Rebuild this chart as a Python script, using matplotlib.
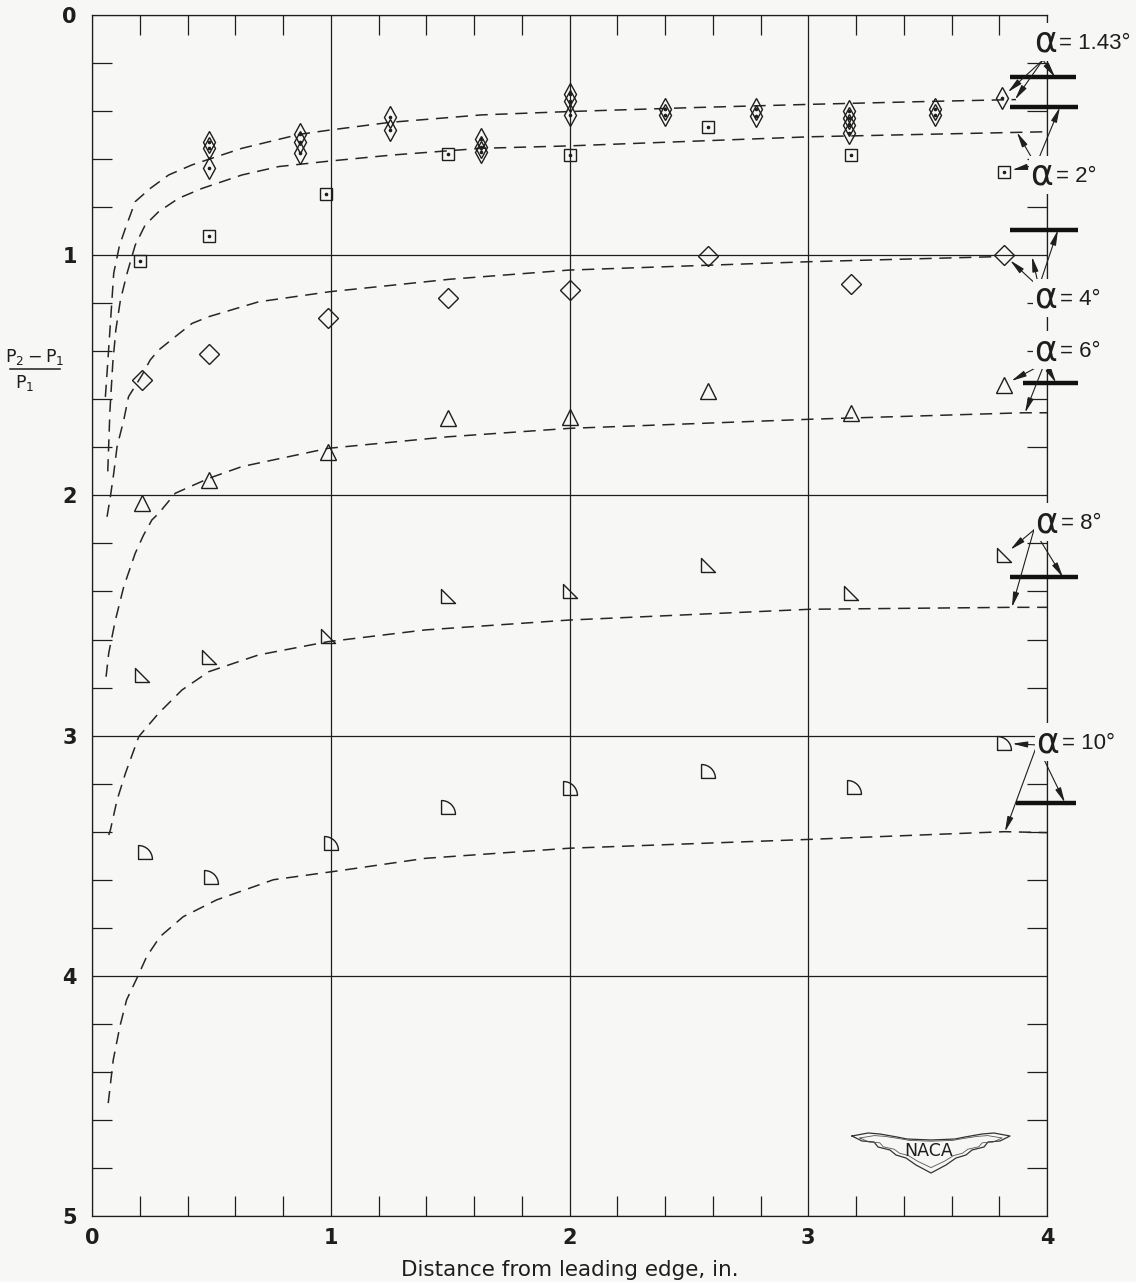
import numpy as np
import matplotlib
matplotlib.use("Agg")
import matplotlib.pyplot as plt
from matplotlib.path import Path
from matplotlib.lines import Line2D

W, H = 1136, 1282
BG = "#f7f7f5"
INK = "#1e1e1e"

# ---- measured pressure rise (p2 - p1)/p1 vs distance from leading edge (in.) ----
# alpha = 1.43 deg (several runs per station)
x_a143 = [0.49, 0.49, 0.49, 0.87, 0.87, 0.87, 1.25, 1.25, 1.63, 1.63, 1.63,
          2.00, 2.00, 2.00, 2.40, 2.40, 2.78, 2.78, 3.17, 3.17, 3.17, 3.17,
          3.53, 3.53, 3.81]
y_a143 = [0.53, 0.555, 0.635, 0.495, 0.53, 0.575, 0.425, 0.48, 0.515, 0.55, 0.57,
          0.33, 0.36, 0.415, 0.39, 0.415, 0.39, 0.42, 0.40, 0.43, 0.46, 0.49,
          0.39, 0.415, 0.345]
# alpha = 2 deg
x_a2 = [0.20, 0.49, 0.98, 1.49, 2.00, 2.58, 3.18, 3.82]
y_a2 = [1.024, 0.919, 0.746, 0.58, 0.583, 0.465, 0.583, 0.652]
# alpha = 4 deg
x_a4 = [0.21, 0.49, 0.99, 1.49, 2.00, 2.58, 3.18, 3.82]
y_a4 = [1.52, 1.41, 1.262, 1.18, 1.145, 1.003, 1.12, 0.998]
# alpha = 6 deg
x_a6 = [0.21, 0.49, 0.99, 1.49, 2.00, 2.58, 3.18, 3.82]
y_a6 = [2.033, 1.936, 1.818, 1.677, 1.672, 1.564, 1.658, 1.54]
# alpha = 8 deg
x_a8 = [0.21, 0.49, 0.99, 1.49, 2.00, 2.58, 3.18, 3.82]
y_a8 = [2.748, 2.674, 2.585, 2.419, 2.398, 2.29, 2.405, 2.248]
# alpha = 10 deg
x_a10 = [0.22, 0.50, 1.00, 1.49, 2.00, 2.58, 3.19, 3.82]
y_a10 = [3.483, 3.59, 3.446, 3.299, 3.219, 3.146, 3.213, 3.032]

# ---- theoretical curves (dashed) ----
cx_143 = [0.056, 0.063, 0.077, 0.091, 0.115, 0.140, 0.181, 0.244, 0.321, 0.419,
          0.491, 0.628, 0.868, 0.996, 1.247, 1.630, 1.997, 2.500, 3.007, 3.500, 3.870]
cy_143 = [1.59, 1.49, 1.284, 1.075, 0.96, 0.888, 0.777, 0.722, 0.666, 0.624,
          0.60, 0.555, 0.497, 0.479, 0.447, 0.416, 0.402, 0.386, 0.372, 0.360, 0.352]
cx_2 = [0.066, 0.075, 0.087, 0.100, 0.119, 0.147, 0.181, 0.223, 0.279, 0.363, 0.461,
        0.628, 0.782, 0.996, 1.257, 1.630, 1.997, 3.007, 4.000]
cy_2 = [1.90, 1.65, 1.45, 1.31, 1.187, 1.075, 0.958, 0.874, 0.819, 0.763, 0.722,
        0.666, 0.631, 0.608, 0.583, 0.555, 0.545, 0.507, 0.486]
cx_4 = [0.063, 0.077, 0.091, 0.105, 0.133, 0.153, 0.209, 0.244, 0.279, 0.349, 0.419,
        0.489, 0.698, 0.996, 1.500, 1.997, 3.007, 3.790]
cy_4 = [2.089, 2.005, 1.908, 1.797, 1.686, 1.589, 1.50, 1.436, 1.395, 1.339, 1.284,
        1.256, 1.194, 1.152, 1.10, 1.062, 1.027, 1.006]
cx_6 = [0.059, 0.070, 0.098, 0.133, 0.181, 0.216, 0.251, 0.279, 0.349, 0.489, 0.628,
        0.989, 1.491, 1.997, 3.007, 3.900, 4.000]
cy_6 = [2.755, 2.657, 2.519, 2.38, 2.241, 2.165, 2.102, 2.075, 1.991, 1.929, 1.88,
        1.804, 1.756, 1.721, 1.683, 1.656, 1.656]
cx_8 = [0.070, 0.077, 0.105, 0.140, 0.196, 0.279, 0.377, 0.489, 0.698, 0.988, 1.396,
        1.997, 3.007, 3.853, 4.000]
cy_8 = [3.414, 3.393, 3.268, 3.157, 3.004, 2.907, 2.81, 2.734, 2.664, 2.609, 2.56,
        2.519, 2.474, 2.466, 2.466]
cx_10 = [0.068, 0.089, 0.117, 0.145, 0.191, 0.229, 0.285, 0.382, 0.522, 0.760, 1.039,
         1.396, 1.997, 3.007, 3.822, 4.000]
cy_10 = [4.53, 4.35, 4.21, 4.10, 4.004, 3.92, 3.837, 3.754, 3.684, 3.60, 3.562,
         3.511, 3.469, 3.432, 3.40, 3.404]

# ---- heavy reference bars at right edge, one per angle ----
bar_levels = [0.259, 0.384, 0.895, 1.531, 2.341, 3.279]

alpha_labels = ["1.43", "2", "4", "6", "8", "10"]
x_ticks = [0, 1, 2, 3, 4]
y_ticks = [0, 1, 2, 3, 4, 5]

# ---- marker shapes ----
right_tri = Path([(-0.5, 0.5), (-0.5, -0.5), (0.5, -0.5), (-0.5, 0.5)],
                 [Path.MOVETO, Path.LINETO, Path.LINETO, Path.CLOSEPOLY])
_arc = Path.arc(0, 90)
_qv = np.vstack([[0, 0], _arc.vertices, [0, 0]]) - 0.5
_qc = [Path.MOVETO, Path.LINETO] + list(_arc.codes[1:]) + [Path.CLOSEPOLY]
quarter = Path(_qv, _qc)

series = [
    (x_a143, y_a143, "d", 11, True),
    (x_a2, y_a2, "s", 8.5, True),
    (x_a4, y_a4, "D", 10, False),
    (x_a6, y_a6, "^", 11, False),
    (x_a8, y_a8, right_tri, 10, False),
    (x_a10, y_a10, quarter, 10, False),
]
curves = [(cx_143, cy_143), (cx_2, cy_2), (cx_4, cy_4),
          (cx_6, cy_6), (cx_8, cy_8), (cx_10, cy_10)]

fig = plt.figure(figsize=(W / 100, H / 100), dpi=100, facecolor=BG)
ax = fig.add_axes([92 / W, 1 - 1216 / H, 955 / W, 1201 / H], facecolor=BG)

ax.set_xlim(0, 4)
ax.set_ylim(5, 0)
ax.set_xticks(x_ticks)
ax.set_yticks(y_ticks)
ax.set_xticks(np.arange(0, 4.01, 0.2), minor=True)
ax.set_yticks(np.arange(0, 5.01, 0.2), minor=True)
ax.set_xticklabels([str(v) for v in x_ticks])
ax.set_yticklabels([str(v) for v in y_ticks])
ax.tick_params(which="major", length=0, labelsize=15, colors=INK)
ax.tick_params(axis="x", which="major", pad=9)
ax.tick_params(axis="y", which="major", pad=11)
ax.tick_params(which="minor", direction="in", length=14.5, width=0.9,
               top=True, right=True, bottom=True, left=True, color=INK)
for lab in ax.get_xticklabels() + ax.get_yticklabels():
    lab.set_fontweight("bold")
ax.grid(which="major", color=INK, lw=0.9)
ax.set_axisbelow(True)
for s in ax.spines.values():
    s.set_color(INK)
    s.set_linewidth(0.9)

# dashed theory curves
for cx, cy in curves:
    ax.plot(cx, cy, ls=(0, (8, 5)), lw=1.1, color="#262626", zorder=2)

# data points
for xs, ys, mk, ms, dot in series:
    ax.plot(xs, ys, ls="none", marker=mk, ms=ms, mfc="none", mec=INK, mew=1.0,
            zorder=3, clip_on=False)
    if dot:
        ax.plot(xs, ys, ls="none", marker="o", ms=1.6, mfc=INK, mec=INK, zorder=3)

# heavy bars at the right edge
bar_x = [(3.845, 4.12), (3.845, 4.13), (3.845, 4.13), (3.90, 4.13),
         (3.845, 4.13), (3.87, 4.12)]
for lvl, (x0, x1) in zip(bar_levels, bar_x):
    ax.plot([x0, x1], [lvl, lvl], color="#111", lw=3.2, solid_capstyle="butt",
            clip_on=False, zorder=4)

# angle labels with leader arrows to marker, bar and curve
label_pos = [(3.992, 0.112), (3.979, 0.666), (3.996, 1.178),
             (3.996, 1.395), (4.000, 2.111), (4.004, 3.027)]
apex = [(3.983, 0.187), (3.954, 0.625), (3.966, 1.132),
        (3.990, 1.449), (3.945, 2.144), (3.958, 3.039)]
bar_tip_x = [4.034, 4.054, 4.046, 4.038, 4.067, 4.075]
curve_tip_x = [3.866, 3.874, 3.937, 3.908, 3.853, 3.824]

arrow_kw = dict(arrowstyle="-|>,head_length=0.9,head_width=0.18", lw=0.8,
                color=INK, shrinkA=0, shrinkB=0)
for i, lbl in enumerate(alpha_labels):
    lx, ly = label_pos[i]
    ax.text(lx, ly, "α", fontsize=25, ha="center", va="center", color=INK,
            clip_on=False, zorder=6,
            bbox=dict(boxstyle="square,pad=0.05", fc=BG, ec="none"))
    ax.annotate("= " + lbl + "°", xy=(lx, ly), xytext=(10, -1),
                textcoords="offset points", fontsize=16, ha="left", va="center",
                family="Liberation Sans", color=INK, annotation_clip=False,
                zorder=6, bbox=dict(boxstyle="square,pad=0.05", fc=BG, ec="none"))
    a = apex[i]
    xs, ys = series[i][0], series[i][1]
    ax.annotate("", xy=(xs[-1], ys[-1]), xytext=a, annotation_clip=False,
                arrowprops=dict(arrow_kw, shrinkB=6), zorder=5)
    ax.annotate("", xy=(bar_tip_x[i], bar_levels[i]), xytext=a,
                annotation_clip=False, arrowprops=arrow_kw, zorder=5)
    cx, cy = curves[i]
    ax.annotate("", xy=(curve_tip_x[i], np.interp(curve_tip_x[i], cx, cy)),
                xytext=a, annotation_clip=False, arrowprops=arrow_kw, zorder=5)

# axis titles
ax.set_xlabel("Distance from leading edge, in.", fontsize=15.5, color=INK,
              labelpad=8)
fig.text(35 / W, 1 - 357 / H, r"$\mathregular{P_2 - P_1}$", fontsize=12.5,
         ha="center", va="center", color=INK)
fig.add_artist(Line2D([10 / W, 60 / W], [1 - 369 / H, 1 - 369 / H],
                      color=INK, lw=1.1, transform=fig.transFigure))
fig.text(25 / W, 1 - 383 / H, r"$\mathregular{P_1}$", fontsize=12.5,
         ha="center", va="center", color=INK)

# NACA wing emblem
wing_px = [(852, 1136), (868, 1133), (880, 1134), (897, 1137), (907, 1139),
           (931, 1140), (955, 1139), (965, 1137), (982, 1134), (994, 1133),
           (1010, 1136), (1000, 1141), (988, 1142), (984, 1147), (972, 1150),
           (966, 1155), (956, 1158), (946, 1165), (931, 1173), (916, 1165),
           (906, 1158), (896, 1155), (890, 1150), (878, 1147), (874, 1142),
           (862, 1141), (852, 1136)]
wx = [p[0] / W for p in wing_px]
wy = [1 - p[1] / H for p in wing_px]
fig.add_artist(Line2D(wx, wy, color="#333", lw=0.9, transform=fig.transFigure))
inner = [(931 + 0.9 * (p[0] - 931), 1146 + 0.8 * (p[1] - 1146)) for p in wing_px]
fig.add_artist(Line2D([p[0] / W for p in inner], [1 - p[1] / H for p in inner],
                      color="#555", lw=0.6, transform=fig.transFigure))
fig.text(929 / W, 1 - 1151 / H, "NACA", fontsize=12.5, ha="center", va="center",
         color=INK)

fig.savefig("out.png", dpi=100, facecolor=BG)
